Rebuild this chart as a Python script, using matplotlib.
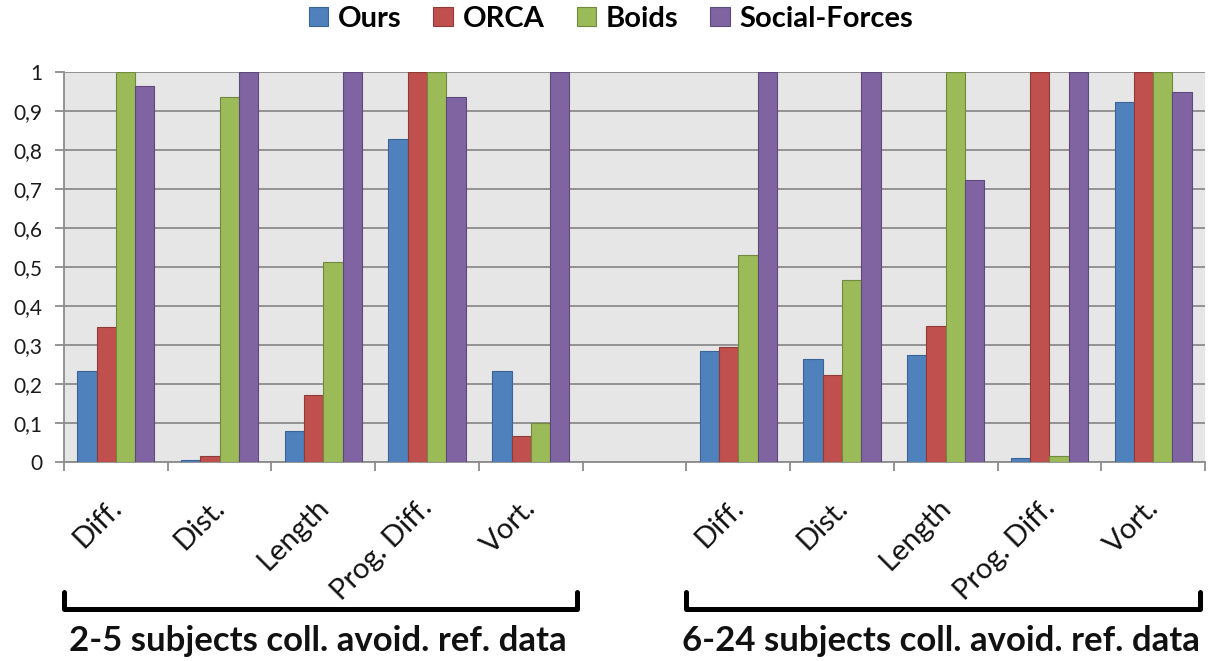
import matplotlib
matplotlib.use("Agg")
import matplotlib.pyplot as plt
import matplotlib.transforms as mtransforms
from matplotlib.patches import Patch
import numpy as np

plt.rcParams['font.family'] = ['Lato', 'DejaVu Sans']

metrics = ['Diff.', 'Dist.', 'Length', 'Prog. Diff.', 'Vort.']
groups = ['2-5 subjects coll. avoid. ref. data', '6-24 subjects coll. avoid. ref. data']
series = ['Ours', 'ORCA', 'Boids', 'Social-Forces']

# first five values: 2-5 subjects, last five: 6-24 subjects
ours = [0.233, 0.006, 0.080, 0.829, 0.233, 0.284, 0.265, 0.275, 0.010, 0.922]
orca = [0.345, 0.015, 0.173, 1.000, 0.066, 0.294, 0.224, 0.349, 1.000, 1.000]
boids = [1.000, 0.935, 0.512, 1.000, 0.099, 0.531, 0.466, 1.000, 0.015, 1.000]
social = [0.963, 1.000, 1.000, 0.935, 1.000, 1.000, 1.000, 0.722, 1.000, 0.949]

yticks = [0, 0.1, 0.2, 0.3, 0.4, 0.5, 0.6, 0.7, 0.8, 0.9, 1]
ytick_labels = ['0', '0,1', '0,2', '0,3', '0,4', '0,5', '0,6', '0,7', '0,8', '0,9', '1']

colors = ['#4f81bd', '#c0504d', '#9bbb59', '#8064a2']
edges = ['#3b6496', '#8e3b39', '#71893f', '#5e4a7a']

# slot 5 is the empty gap between the two groups
pos = np.array(list(range(5)) + list(range(6, 11)))
labels = metrics + metrics

fig = plt.figure(figsize=(12.22, 6.61), dpi=100)
ax = fig.add_axes([0.0524, 0.301, 0.9337, 0.590])
ax.set_facecolor('#e6e6e6')

w = 0.186
for i, vals in enumerate([ours, orca, boids, social]):
    ax.bar(pos + (i - 1.5) * w, vals, width=w, color=colors[i],
           edgecolor=edges[i], linewidth=0.8, zorder=3)

ax.set_xlim(-0.5, 10.5)
ax.set_ylim(0, 1)
ax.set_yticks(yticks, ytick_labels)
ax.yaxis.grid(True, color='#8c8c8c', linewidth=1.3, zorder=1)
ax.set_axisbelow(True)

for s in ['top', 'right']:
    ax.spines[s].set_visible(False)
for s in ['left', 'bottom']:
    ax.spines[s].set_color('#8c8c8c')
    ax.spines[s].set_linewidth(1.3)

ax.tick_params(axis='y', length=6.5, width=1.3, color='#8c8c8c', pad=9,
               labelsize=15, labelcolor='#1a1a1a')

# category boundaries as minor ticks, labels on major ticks without marks
ax.set_xticks(np.arange(-0.5, 11, 1), minor=True)
ax.set_xticks(pos, labels, rotation=45, ha='right', va='baseline',
              rotation_mode='anchor')
ax.tick_params(axis='x', which='minor', length=6.5, width=1.3, color='#8c8c8c')
ax.tick_params(axis='x', which='major', length=0, pad=34, labelsize=21,
               labelcolor='#111111')
shift = mtransforms.ScaledTranslation(5 / 72, 0, fig.dpi_scale_trans)
for lab in ax.get_xticklabels():
    lab.set_transform(lab.get_transform() + shift)

# brackets and group captions
tr = mtransforms.blended_transform_factory(ax.transData, ax.transAxes)
for g, name in enumerate(groups):
    x0 = pos[g * 5] - 0.5
    x1 = pos[g * 5 + 4] + 0.45
    ax.plot([x0, x0, x1, x1], [-0.333, -0.377, -0.377, -0.333], color='black',
            linewidth=3.6, transform=tr, clip_on=False, solid_joinstyle='round',
            solid_capstyle='round')
    ax.text(pos[g * 5 + 2] - 0.05, -0.485, name, transform=tr, ha='center',
            va='baseline', fontsize=25, fontweight='bold', color='#111111')

handles = [Patch(facecolor=c, edgecolor=e, linewidth=0.8) for c, e in zip(colors, edges)]
fig.legend(handles, series, loc='center', bbox_to_anchor=(0.5, 0.972), ncol=4,
           frameon=False, prop={'size': 21, 'weight': 'bold'},
           handlelength=0.66, handleheight=0.62, handletextpad=0.34,
           columnspacing=1.1)

fig.savefig('out.png', dpi=100)
